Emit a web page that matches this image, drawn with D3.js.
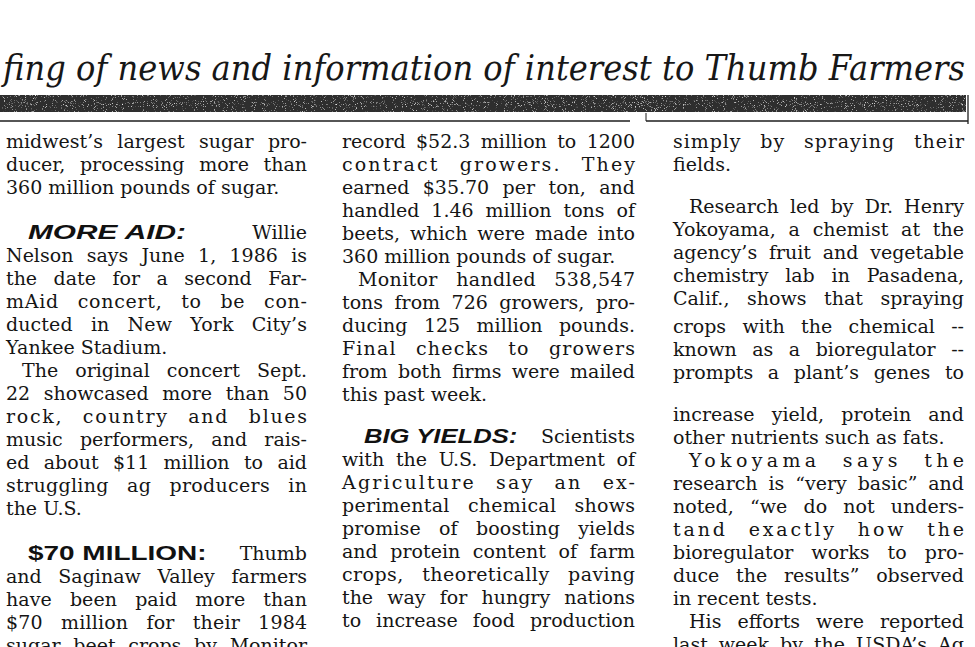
<!DOCTYPE html>
<html>
<head>
<meta charset="utf-8">
<script src="https://cdn.jsdelivr.net/npm/d3@7"></script>
<style>
  html, body { margin: 0; padding: 0; background: #fff; }
  svg { display: block; }
  .body-text { font-family: "DejaVu Serif", serif; font-size: 19px; fill: #151515; }
  .head      { font-family: "Liberation Sans", Arial, sans-serif; font-weight: bold; fill: #111; }
  .banner    { font-family: "DejaVu Serif", serif; font-style: italic; font-size: 36px; fill: #171717; }
</style>
</head>
<body>
<div id="page"></div>
<script>
// ── Text, one entry per printed line ───────────────────────────────────────
// ""  = paragraph space, "~" = paste-up seam, leading "\t" = indented line
const banner = "fing of news and information of interest to Thumb Farmers";

const runInHeads = ["MORE AID:", "$70 MILLION:", "BIG YIELDS:"];

const column1 = [
  "midwest’s largest sugar pro-",
  "ducer, processing more than",
  "360 million pounds of sugar.",
  "",
  "\tMORE AID: Willie",
  "Nelson says June 1, 1986 is",
  "the date for a second Far-",
  "mAid concert, to be con-",
  "ducted in New York City’s",
  "Yankee Stadium.",
  "\tThe original concert Sept.",
  "22 showcased more than 50",
  "rock, country and blues",
  "music performers, and rais-",
  "ed about $11 million to aid",
  "struggling ag producers in",
  "the U.S.",
  "",
  "\t$70 MILLION: Thumb",
  "and Saginaw Valley farmers",
  "have been paid more than",
  "$70 million for their 1984",
  "sugar beet crops by Monitor",
];

const column2 = [
  "record $52.3 million to 1200",
  "contract growers. They",
  "earned $35.70 per ton, and",
  "handled 1.46 million tons of",
  "beets, which were made into",
  "360 million pounds of sugar.",
  "\tMonitor handled 538,547",
  "tons from 726 growers, pro-",
  "ducing 125 million pounds.",
  "Final checks to growers",
  "from both firms were mailed",
  "this past week.",
  "",
  "\tBIG YIELDS: Scientists",
  "with the U.S. Department of",
  "Agriculture say an ex-",
  "perimental chemical shows",
  "promise of boosting yields",
  "and protein content of farm",
  "crops, theoretically paving",
  "the way for hungry nations",
  "to increase food production",
];

const column3 = [
  "simply by spraying their",
  "fields.",
  "",
  "\tResearch led by Dr. Henry",
  "Yokoyama, a chemist at the",
  "agency’s fruit and vegetable",
  "chemistry lab in Pasadena,",
  "Calif., shows that spraying",
  "~",
  "crops with the chemical --",
  "known as a bioregulator --",
  "prompts a plant’s genes to",
  "~",
  "increase yield, protein and",
  "other nutrients such as fats.",
  "\tYokoyama says the",
  "research is “very basic” and",
  "noted, “we do not unders-",
  "tand exactly how the",
  "bioregulator works to pro-",
  "duce the results” observed",
  "in recent tests.",
  "\tHis efforts were reported",
  "last week by the USDA’s Ag",
];

// ── Layout ─────────────────────────────────────────────────────────────────
const W = 975, H = 647;
const COLUMNS = [
  { lines: column1, left: 6,   right: 307, gap: 22 },
  { lines: column2, left: 342, right: 635, gap: 19 },
  { lines: column3, left: 673, right: 964, gap: 19 },
];
const FIRST_BASELINE = 148;
const LEADING   = 23;
const SEAM_GAPS = [5, 19];
const INDENT = 16, HEAD_INDENT = 22;
const MAX_WORD_SPACE = 12;
const MAX_HEAD_GAP   = 36;

const HEAD_STYLE = {
  "MORE AID:":    { size: 21, italic: true,  stretch: 1.42 },
  "BIG YIELDS:":  { size: 21, italic: true,  stretch: 1.22 },
  "$70 MILLION:": { size: 21, italic: false, stretch: 1.33 },
};

const lineY = d3.scaleLinear().domain([0, 1]).range([FIRST_BASELINE, FIRST_BASELINE + LEADING]);

const svg = d3.select("#page").append("svg")
  .attr("width", W)
  .attr("height", H);

svg.append("rect").attr("width", W).attr("height", H).attr("fill", "#fff");

// ── Halftone grain for the dark band ───────────────────────────────────────
const defs = svg.append("defs");
const grain = defs.append("filter").attr("id", "halftone")
  .attr("x", 0).attr("y", 0).attr("width", "100%").attr("height", "100%");
grain.append("feTurbulence")
  .attr("type", "fractalNoise").attr("baseFrequency", 1.1)
  .attr("numOctaves", 2).attr("seed", 7).attr("result", "noise");
grain.append("feColorMatrix").attr("in", "noise").attr("type", "matrix")
  .attr("values", "0 0 0 0 1  0 0 0 0 1  0 0 0 0 1  3 0 0 0 -1.85")
  .attr("result", "specks");
grain.append("feComposite").attr("in", "specks").attr("in2", "SourceGraphic")
  .attr("operator", "in").attr("result", "clipped");
const merge = grain.append("feMerge");
merge.append("feMergeNode").attr("in", "SourceGraphic");
merge.append("feMergeNode").attr("in", "clipped");

// ── Banner ─────────────────────────────────────────────────────────────────
svg.append("text")
  .attr("class", "banner")
  .attr("x", 3)
  .attr("y", 80)
  .attr("textLength", 962)
  .attr("lengthAdjust", "spacingAndGlyphs")
  .text(banner);

svg.append("rect")
  .attr("x", 0).attr("y", 95)
  .attr("width", 966).attr("height", 17)
  .attr("fill", "#2f2f2f")
  .attr("filter", "url(#halftone)");

// column rules under the band
const rule = svg.append("g").attr("stroke", "#1e1e1e").attr("stroke-width", 1.3);
rule.append("line").attr("x1", 0).attr("x2", 630).attr("y1", 121).attr("y2", 121);
rule.append("line").attr("x1", 646).attr("x2", 968).attr("y1", 121).attr("y2", 121);
rule.append("line").attr("x1", 968).attr("x2", 968).attr("y1", 95).attr("y2", 124);
rule.append("line").attr("x1", 646).attr("x2", 646).attr("y1", 113).attr("y2", 121)
  .attr("stroke-width", 1);

// ── Column text ────────────────────────────────────────────────────────────
const measurer = svg.append("text").attr("class", "body-text").attr("x", -999).attr("y", -999);
function measure(str) {
  measurer.text(str);
  return measurer.node().getComputedTextLength();
}
const SPACE = measure("n n") - measure("nn");

let seamIndex = 0;
function layoutColumn(col) {
  const out = [];
  let row = 0, shift = 0;
  col.lines.forEach((raw, k) => {
    if (raw === "")  { shift += col.gap; return; }
    if (raw === "~") { shift += SEAM_GAPS[seamIndex++]; return; }
    const next = col.lines[k + 1];
    out.push({
      text:   raw.replace(/^\t/, ""),
      indent: raw.startsWith("\t"),
      ragged: next !== undefined && (next === "" || next.startsWith("\t")),
      y:      lineY(row) + shift,
    });
    row++;
  });
  return out;
}

function drawLine(g, line, col) {
  let x = col.left;
  let text = line.text;
  const head = runInHeads.find(h => text.startsWith(h));
  if (line.indent) x += head ? HEAD_INDENT : INDENT;

  if (head) {
    const st = HEAD_STYLE[head];
    const h = g.append("text")
      .attr("class", "head")
      .attr("x", x).attr("y", line.y)
      .style("font-size", st.size + "px")
      .style("font-style", st.italic ? "italic" : "normal")
      .text(head);
    const hw = h.node().getComputedTextLength() * st.stretch;
    h.attr("textLength", hw).attr("lengthAdjust", "spacingAndGlyphs");
    x += hw + SPACE;
    text = text.slice(head.length).trim();
  }

  const t = g.append("text")
    .attr("class", "body-text")
    .attr("x", x).attr("y", line.y)
    .text(text);
  if (line.ragged) return;

  const natural = t.node().getComputedTextLength();
  const spaces = (text.match(/ /g) || []).length;
  let free = col.right - x - natural;
  if (free <= 0) return;

  // a run-in head takes the slack first, up to a point
  if (head) {
    const lead = spaces ? Math.min(free, MAX_HEAD_GAP) : free;
    t.attr("x", x + lead);
    free -= lead;
    if (free <= 0) return;
  }
  if (!spaces) return;

  let ws = free / spaces, ls = 0;
  if (ws > MAX_WORD_SPACE) {
    ws = MAX_WORD_SPACE;
    ls = (free - spaces * ws) / (text.length - 1);
  }
  t.style("word-spacing", ws + "px").style("letter-spacing", ls + "px");
}

COLUMNS.forEach(col => {
  const g = svg.append("g");
  layoutColumn(col).forEach(line => drawLine(g, line, col));
});

measurer.remove();
</script>
</body>
</html>
